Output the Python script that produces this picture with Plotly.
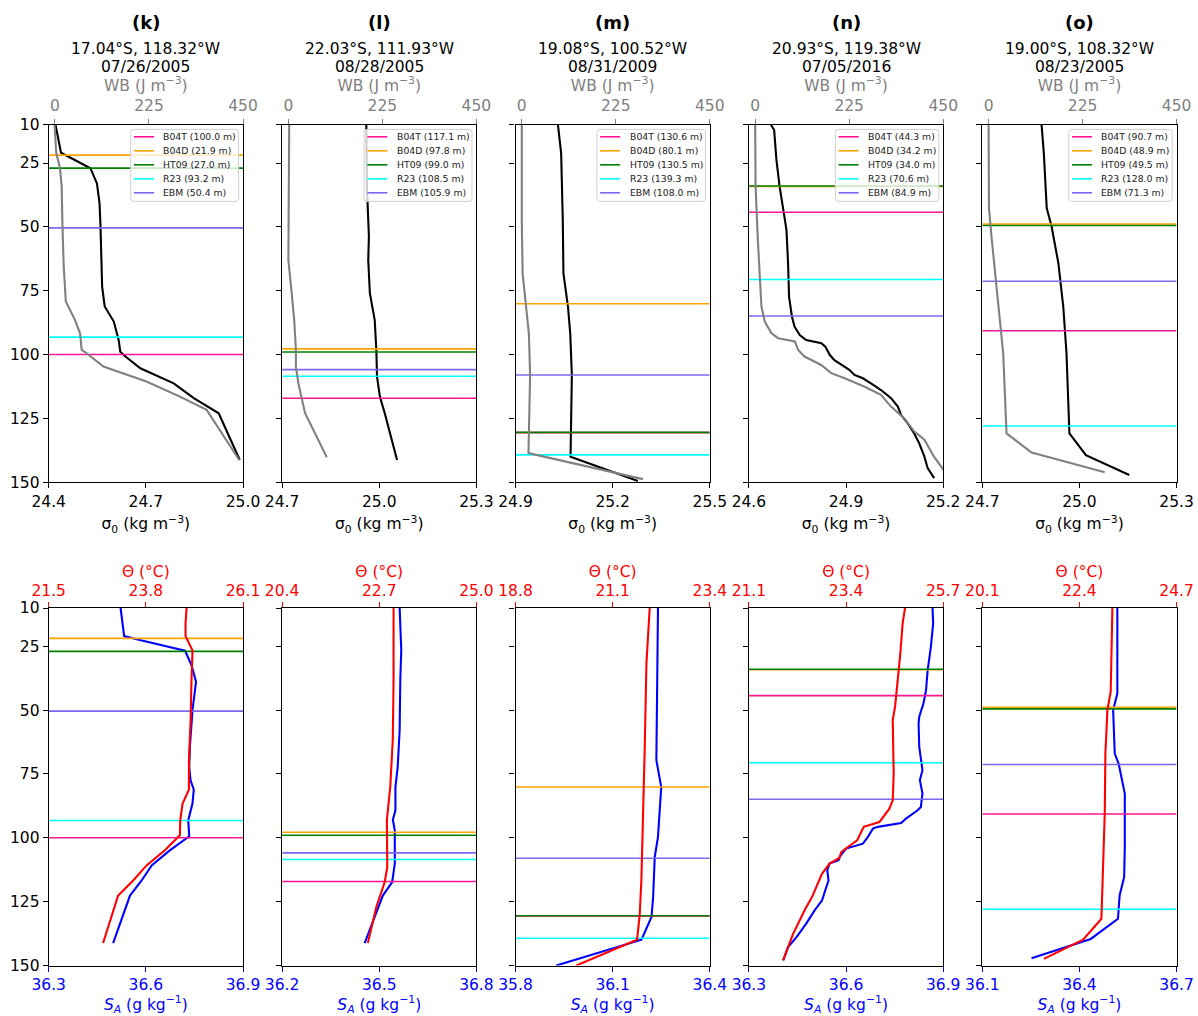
import plotly.graph_objects as go

# ---------------- data ----------------
letters = ["(k)", "(l)", "(m)", "(n)", "(o)"]
locations = ["17.04°S, 118.32°W", "22.03°S, 111.93°W", "19.08°S, 100.52°W",
             "20.93°S, 119.38°W", "19.00°S, 108.32°W"]
dates = ["07/26/2005", "08/28/2005", "08/31/2009", "07/05/2016", "08/23/2005"]

mld_names = ["B04T", "B04D", "HT09", "R23", "EBM"]
mld_colors = ["#ff1493", "#ffa500", "#008000", "#00ffff", "#7b68ee"]
mld_k = [100.0, 21.9, 27.0, 93.2, 50.4]
mld_l = [117.1, 97.8, 99.0, 108.5, 105.9]
mld_m = [130.6, 80.1, 130.5, 139.3, 108.0]
mld_n = [44.3, 34.2, 34.0, 70.6, 84.9]
mld_o = [90.7, 48.9, 49.5, 128.0, 71.3]

# axis ranges / ticks
sigma_ticks = [[24.4, 24.7, 25.0], [24.7, 25.0, 25.3], [24.9, 25.2, 25.5],
               [24.6, 24.9, 25.2], [24.7, 25.0, 25.3]]
sa_ticks = [[36.3, 36.6, 36.9], [36.2, 36.5, 36.8], [35.8, 36.1, 36.4],
            [36.3, 36.6, 36.9], [36.1, 36.4, 36.7]]
theta_ticks = [[21.5, 23.8, 26.1], [20.4, 22.7, 25.0], [18.8, 21.1, 23.4],
               [21.1, 23.4, 25.7], [20.1, 22.4, 24.7]]
wb_ticks = [0, 225, 450]
wb_range = [-15, 450]
depth_ticks = [10, 25, 50, 75, 100, 125, 150]
depth_range = [150, 10]

# ---- (k) ----
k_sig_z = [10, 14.7, 21, 27.1, 33, 40.8, 49.9, 73.4, 81.2, 87.1, 94.3, 98.9, 100.8, 105.4, 111.3, 117.1, 123, 141.3]
k_sig = [24.421, 24.428, 24.438, 24.529, 24.549, 24.557, 24.560, 24.565, 24.573, 24.601, 24.616, 24.621, 24.637, 24.683, 24.786, 24.848, 24.925, 24.990]
k_wb_z = [10, 21, 27, 34, 50, 65.6, 79.2, 86.5, 91.7, 98.2, 99.5, 104.7, 110.6, 116.5, 121.7, 141.3]
k_wb = [-1, 3, 12, 16, 18, 21, 26, 48, 60, 64, 76, 116, 219, 299, 363, 441]
k_sa_z = [10, 14.7, 21, 22.5, 26.7, 32.4, 38.9, 50, 64.4, 72.2, 77.5, 81.1, 86.6, 93.1, 99.4, 104.9, 110.8, 116.7, 122.6, 141.2]
k_sa = [36.522, 36.526, 36.533, 36.581, 36.721, 36.741, 36.755, 36.744, 36.736, 36.734, 36.738, 36.748, 36.744, 36.731, 36.734, 36.674, 36.618, 36.587, 36.551, 36.499]
k_th_z = [10, 16, 21, 23.9, 26.7, 38.2, 53.9, 69.6, 77.5, 81.1, 86.6, 93.1, 99, 104.9, 110.8, 116.7, 122.6, 141.2]
k_th = [24.764, 24.74, 24.74, 24.83, 24.906, 24.88, 24.86, 24.82, 24.81, 24.82, 24.67, 24.614, 24.606, 24.25, 23.816, 23.5, 23.144, 22.788]

# ---- (l) ----
l_sig_z = [10, 34.3, 53.8, 63, 76, 86.5, 98.2, 108.6, 116.5, 123, 141.3]
l_sig = [24.960, 24.962, 24.968, 24.966, 24.971, 24.986, 24.991, 24.993, 25.002, 25.017, 25.055]
l_wb_z = [10, 34, 63, 76, 86.5, 98.2, 104.7, 111.3, 117.8, 123, 140.2]
l_wb = [2, 1, 0, 8, 14, 18, 18, 24, 32, 40, 92]
l_sa_z = [10, 26.5, 38.2, 57.8, 72.2, 80.1, 89.2, 92.9, 97.1, 110.1, 117.3, 122.6, 141.2]
l_sa = [36.563, 36.568, 36.565, 36.563, 36.557, 36.550, 36.550, 36.542, 36.548, 36.548, 36.540, 36.511, 36.455]
l_th_z = [10, 38.2, 61.8, 80.1, 93.1, 101, 111.4, 117.3, 127.1, 141.2]
l_th = [23.039, 23.039, 23.02, 22.96, 22.88, 22.88, 22.89, 22.83, 22.63, 22.43]

# ---- (m) ----
m_sig_z = [10, 21.2, 47.3, 68.2, 81.2, 91.7, 108, 125.6, 140, 149.5]
m_sig = [25.031, 25.041, 25.046, 25.048, 25.062, 25.069, 25.074, 25.072, 25.070, 25.278]
m_wb_z = [10, 47.3, 68.2, 81.2, 91.7, 108, 125.6, 138.6, 148.8]
m_wb = [0, 0, 2, 10, 17, 20, 18, 16, 290]
m_sa_z = [10, 38.2, 69.6, 80.1, 99.6, 107.5, 123.2, 131, 139.9, 150]
m_sa = [36.240, 36.237, 36.235, 36.250, 36.240, 36.230, 36.225, 36.220, 36.189, 35.926]
m_th_z = [10, 31.7, 64.4, 97.1, 116.7, 130.4, 139.9, 150]
m_th = [21.977, 21.90, 21.86, 21.82, 21.78, 21.74, 21.677, 20.24]

# ---- (n) ----
n_sig_z = [10, 12.1, 23.8, 34.3, 44.7, 51.2, 64.3, 77.4, 85.2, 89.1, 92.4, 94.3, 95.6, 96.9, 100.2, 102.2, 104.7, 106, 108, 109.3, 111.3, 113.9, 117.1, 120.4, 123.7, 126.9, 130.8, 134.8, 140, 144.5, 148.4]
n_sig = [24.668, 24.678, 24.685, 24.695, 24.708, 24.716, 24.721, 24.724, 24.733, 24.741, 24.757, 24.777, 24.824, 24.836, 24.850, 24.864, 24.895, 24.910, 24.926, 24.952, 24.977, 25.008, 25.039, 25.060, 25.070, 25.090, 25.110, 25.126, 25.142, 25.152, 25.172]
n_wb_z = [10, 34.3, 53.8, 70.8, 81.2, 87.1, 91.7, 93.6, 94.9, 98.2, 100.8, 104.1, 107.3, 109.3, 112.6, 115.8, 120.4, 125, 130.2, 133.4, 140, 145, 148]
n_wb = [0, 1, 6, 11, 15, 23, 39, 55, 95, 103, 118, 158, 182, 214, 262, 301, 325, 357, 381, 405, 428, 450, 470]
n_sa_z = [10, 16, 25.2, 34.3, 42.2, 47.4, 52.6, 55.2, 64.4, 73.5, 77.4, 82.7, 87.9, 89.2, 92.5, 94.2, 95.7, 96.4, 99.7, 102.3, 104.2, 107.5, 108.8, 110.1, 112.7, 116.7, 119.3, 124.5, 128.4, 133.6, 138.9, 142.8, 148]
n_sa = [36.867, 36.869, 36.862, 36.852, 36.847, 36.839, 36.826, 36.824, 36.826, 36.836, 36.828, 36.836, 36.831, 36.821, 36.785, 36.770, 36.698, 36.683, 36.667, 36.652, 36.600, 36.580, 36.577, 36.549, 36.542, 36.546, 36.539, 36.526, 36.503, 36.477, 36.447, 36.421, 36.406]
n_th_z = [10, 16, 29.1, 38.2, 48.7, 53.9, 64.4, 74.8, 85.3, 88.6, 93.8, 95.7, 97.7, 101, 103.6, 105.6, 107.8, 110.1, 114.1, 119.3, 123.2, 127.8, 132.4, 137.6, 142.8, 148]
n_th = [24.796, 24.74, 24.678, 24.623, 24.56, 24.505, 24.52, 24.528, 24.505, 24.426, 24.19, 23.82, 23.758, 23.663, 23.443, 23.286, 23.247, 23.01, 22.83, 22.696, 22.594, 22.437, 22.303, 22.146, 22.028, 21.91]

# ---- (o) ----
o_sig_z = [10, 21.2, 42.7, 49.9, 64.3, 81.2, 99.5, 119, 130.9, 139.4, 147.2]
o_sig = [24.883, 24.890, 24.899, 24.914, 24.935, 24.950, 24.960, 24.966, 24.969, 25.020, 25.154]
o_wb_z = [10, 42.7, 53.8, 79.9, 99.5, 130.9, 138.4, 146.1]
o_wb = [0, 1, 7, 23, 35, 43, 103, 278]
o_sa_z = [10, 43.5, 50, 67, 70.9, 82.7, 103.6, 115.4, 122.6, 131.7, 139.6, 147.2]
o_sa = [36.517, 36.517, 36.504, 36.509, 36.521, 36.540, 36.540, 36.538, 36.524, 36.519, 36.435, 36.252]
o_th_z = [10, 42.8, 50, 67, 90.5, 114, 131.7, 139.9, 147.4]
o_th = [23.18, 23.14, 23.062, 23.014, 22.999, 22.96, 22.92, 22.487, 21.557]

profiles = [
    dict(sig=(k_sig, k_sig_z), wb=(k_wb, k_wb_z), sa=(k_sa, k_sa_z), th=(k_th, k_th_z), mld=mld_k),
    dict(sig=(l_sig, l_sig_z), wb=(l_wb, l_wb_z), sa=(l_sa, l_sa_z), th=(l_th, l_th_z), mld=mld_l),
    dict(sig=(m_sig, m_sig_z), wb=(m_wb, m_wb_z), sa=(m_sa, m_sa_z), th=(m_th, m_th_z), mld=mld_m),
    dict(sig=(n_sig, n_sig_z), wb=(n_wb, n_wb_z), sa=(n_sa, n_sa_z), th=(n_th, n_th_z), mld=mld_n),
    dict(sig=(o_sig, o_sig_z), wb=(o_wb, o_wb_z), sa=(o_sa, o_sa_z), th=(o_th, o_th_z), mld=mld_o),
]

# ---------------- layout helpers ----------------
W, H = 1198, 1016
FONT = "DejaVu Sans"
FS = 15.5
GRAY = "#808080"


def px(x):
    return x / W


def py(y):
    return 1 - y / H


col_left = [48.7 + c * 233.4 for c in range(5)]
col_w = 194.3
row_top = [124.7, 608.0]
row_h = 357.5

char_w = {"0": .636, "1": .636, "2": .636, "3": .636, "4": .636, "5": .636, "6": .636,
          "7": .636, "8": .636, "9": .636, ".": .318, " ": .318, "(": .39, ")": .39,
          "m": .974, "B": .686, "T": .611, "D": .770, "H": .752, "R": .695, "E": .632, "M": .863}


def text_w(s, fs):
    return sum(char_w.get(ch, .6) for ch in s) * fs


def axid(n, letter):
    return letter if n == 1 else f"{letter}{n}"


def axkey(n, letter):
    return f"{letter}axis" if n == 1 else f"{letter}axis{n}"


fig = go.Figure()
shapes = []
annotations = []
layout = {}

for c in range(5):
    P = profiles[c]
    for row in range(2):
        i = row * 5 + c
        xb, xt, yi = 2 * i + 1, 2 * i + 2, i + 1
        xb_id, xt_id, y_id = axid(xb, "x"), axid(xt, "x"), axid(yi, "y")
        L = col_left[c]
        dom_x = [px(L), px(L + col_w)]
        dom_y = [py(row_top[row] + row_h), py(row_top[row])]

        if row == 0:
            bt = sigma_ticks[c]
            tt = wb_ticks
            trange = wb_range
            bcol, tcol = "black", GRAY
            btitle = "σ<sub>0</sub> (kg m<sup>−3</sup>)"
            ttitle = "WB (J m<sup>−3</sup>)"
            bottom_series = (P["sig"], "black", "σ0")
            top_series = (P["wb"], GRAY, "WB")
            tticktext = [str(v) for v in tt]
            tstand, tlab = 1, 2
        else:
            bt = sa_ticks[c]
            tt = theta_ticks[c]
            trange = [tt[0], tt[-1]]
            bcol, tcol = "blue", "red"
            btitle = "<i>S<sub>A</sub></i> (g kg<sup>−1</sup>)"
            ttitle = "Θ (°C)"
            bottom_series = (P["sa"], "blue", "S_A")
            top_series = (P["th"], "red", "Θ")
            tticktext = [f"{v:.1f}" for v in tt]
            tstand, tlab = 0, 0
        brange = [bt[0], bt[-1]]

        layout[axkey(yi, "y")] = dict(
            domain=dom_y, anchor=xb_id, range=depth_range, tickvals=depth_ticks,
            ticks="outside", ticklen=5, tickwidth=1.1, tickcolor="black",
            showline=True, mirror=True, linecolor="black", linewidth=1.2,
            showgrid=False, zeroline=False, showticklabels=(c == 0),
            automargin=False, tickfont=dict(size=FS, color="black"))
        layout[axkey(xb, "x")] = dict(
            domain=dom_x, anchor=y_id, range=brange, tickvals=bt,
            ticktext=[f"{v:.1f}" for v in bt], side="bottom",
            ticks="outside", ticklen=5, tickwidth=1.1, tickcolor=bcol,
            showline=True, mirror=True, linecolor="black", linewidth=1.2,
            showgrid=False, zeroline=False, automargin=False,
            tickfont=dict(size=FS, color=bcol),
            title=dict(text=btitle, font=dict(size=FS, color=bcol), standoff=8))
        layout[axkey(xt, "x")] = dict(
            overlaying=xb_id, anchor=y_id, side="top", range=trange, tickvals=tt,
            ticktext=tticktext, ticks="outside", ticklen=5, tickwidth=1.1,
            ticklabelstandoff=tlab,
            tickcolor=tcol, showline=False, showgrid=False, zeroline=False,
            automargin=False, tickfont=dict(size=FS, color=tcol),
            title=dict(text=ttitle, font=dict(size=FS, color=tcol), standoff=tstand))

        # profile lines
        (vals, zs), colr, nm = bottom_series
        fig.add_trace(go.Scatter(x=vals, y=zs, mode="lines", name=nm,
                                 line=dict(color=colr, width=2.1),
                                 xaxis=xb_id, yaxis=y_id, showlegend=False))
        # MLD horizontal lines
        for name, colr2, d in zip(mld_names, mld_colors, P["mld"]):
            fig.add_trace(go.Scatter(x=brange, y=[d, d], mode="lines",
                                     name=f"{name} ({d:.1f} m)",
                                     line=dict(color=colr2, width=1.6),
                                     xaxis=xb_id, yaxis=y_id, showlegend=False,
                                     hoverinfo="name"))
        (vals, zs), colr, nm = top_series
        fig.add_trace(go.Scatter(x=vals, y=zs, mode="lines", name=nm,
                                 line=dict(color=colr, width=2.1),
                                 xaxis=xt_id, yaxis=y_id, showlegend=False))

        # custom legend in top panels
        if row == 0:
            labels = [f"{n} ({d:.1f} m)" for n, d in zip(mld_names, P["mld"])]
            lfs = 9.3
            tw = max(text_w(s, lfs) for s in labels)
            bw, bh = 30.7 + tw + 4.5, 72.0
            bx1 = L + col_w - 4.4
            bx0 = bx1 - bw
            by0 = row_top[0] + 4.7
            by1 = by0 + bh
            r = 3.0
            path = (f"M {px(bx0 + r)},{py(by0)} L {px(bx1 - r)},{py(by0)} "
                    f"Q {px(bx1)},{py(by0)} {px(bx1)},{py(by0 + r)} "
                    f"L {px(bx1)},{py(by1 - r)} Q {px(bx1)},{py(by1)} {px(bx1 - r)},{py(by1)} "
                    f"L {px(bx0 + r)},{py(by1)} Q {px(bx0)},{py(by1)} {px(bx0)},{py(by1 - r)} "
                    f"L {px(bx0)},{py(by0 + r)} Q {px(bx0)},{py(by0)} {px(bx0 + r)},{py(by0)} Z")
            shapes.append(dict(type="path", path=path, xref="paper", yref="paper",
                               fillcolor="rgba(255,255,255,0.8)",
                               line=dict(color="#d0d0d0", width=1), layer="above"))
            for j, (lab, colr2) in enumerate(zip(labels, mld_colors)):
                yy = by0 + 7.4 + 14.0 * j
                shapes.append(dict(type="line", xref="paper", yref="paper",
                                   x0=px(bx0 + 3.3), x1=px(bx0 + 23.3),
                                   y0=py(yy), y1=py(yy),
                                   line=dict(color=colr2, width=1.6), layer="above"))
                annotations.append(dict(text=lab, xref="paper", yref="paper",
                                        x=px(bx0 + 30.7), y=py(yy), xanchor="left",
                                        yanchor="middle", showarrow=False,
                                        font=dict(size=lfs, color="#222222")))

    # panel titles
    cx = px(col_left[c] + col_w / 2)
    annotations.append(dict(text=f"<b>{letters[c]}</b>", xref="paper", yref="paper",
                            x=cx, y=py(23), xanchor="center", yanchor="middle",
                            showarrow=False, font=dict(size=18, color="black")))
    annotations.append(dict(text=locations[c], xref="paper", yref="paper",
                            x=cx, y=py(49), xanchor="center", yanchor="middle",
                            showarrow=False, font=dict(size=FS, color="black")))
    annotations.append(dict(text=dates[c], xref="paper", yref="paper",
                            x=cx, y=py(67), xanchor="center", yanchor="middle",
                            showarrow=False, font=dict(size=FS, color="black")))

fig.update_layout(
    width=W, height=H, margin=dict(l=0, r=0, t=0, b=0, autoexpand=False),
    paper_bgcolor="white", plot_bgcolor="white",
    font=dict(family=FONT, size=FS, color="black"),
    showlegend=False, shapes=shapes, annotations=annotations, **layout)

# remove the default page margin so the 1198x1016 figure fills the window exactly
fig.write_html("out.html", config={"displayModeBar": False},
               post_script="document.body.style.margin='0';document.body.style.overflow='hidden';")
